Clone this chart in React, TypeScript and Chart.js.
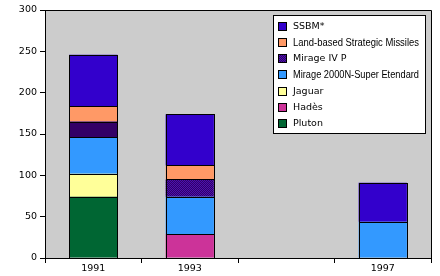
import React, { useEffect, useRef } from "react";
import { Chart, registerables } from "chart.js";

Chart.register(...registerables);

const years = ["1991", "1993", "", "1997"];
const pluton = [74, null, null, null];
const hades = [null, 29, null, null];
const jaguar = [28, null, null, null];
const mirage2000 = [44, 45, null, 44];
const mirageIV = [19, 21, null, null];
const landBased = [19, 17, null, null];
const ssbm = [62, 62, null, 47];
const yTicks = [0, 50, 100, 150, 200, 250, 300];

const FONT = "'DejaVu Sans', Verdana, sans-serif";

function makePattern(): CanvasPattern | string {
  const c = document.createElement("canvas");
  c.width = 4;
  c.height = 4;
  const g = c.getContext("2d");
  if (!g) return "#3a0a8a";
  g.fillStyle = "#330066";
  g.fillRect(0, 0, 4, 4);
  g.fillStyle = "#4a12b0";
  for (let i = 0; i < 4; i++) {
    g.fillRect(i, i % 4, 1, 1);
    g.fillRect(i, (i + 2) % 4, 1, 1);
  }
  const p = g.createPattern(c, "repeat");
  return p || "#3a0a8a";
}

export default function App() {
  const ref = useRef<HTMLCanvasElement | null>(null);

  useEffect(() => {
    document.body.style.margin = "0";
    const canvas = ref.current;
    if (!canvas) return;
    const pattern = makePattern();

    const bg = {
      id: "plotBg",
      beforeDraw(chart: any) {
        const { ctx, chartArea: a } = chart;
        ctx.save();
        ctx.fillStyle = "#ffffff";
        ctx.fillRect(0, 0, chart.width, chart.height);
        ctx.fillStyle = "#cccccc";
        ctx.fillRect(a.left, a.top, a.right - a.left, a.bottom - a.top);
        ctx.restore();
      },
      afterDatasetsDraw(chart: any) {
        const { ctx } = chart;
        ctx.save();
        ctx.strokeStyle = "#000";
        ctx.lineWidth = 1;
        chart.data.datasets.forEach((_d: any, di: number) => {
          const meta = chart.getDatasetMeta(di);
          meta.data.forEach((el: any, i: number) => {
            const v = chart.data.datasets[di].data[i];
            if (v === null || v === undefined) return;
            const p = el.getProps(["x", "y", "base", "width"], true);
            const l = Math.round(p.x - p.width / 2);
            const r = Math.round(p.x + p.width / 2);
            const t = Math.round(Math.min(p.y, p.base));
            const b = Math.round(Math.max(p.y, p.base));
            ctx.strokeRect(l + 0.5, t + 0.5, r - l, b - t);
          });
        });
        ctx.restore();
      },
      afterDraw(chart: any) {
        const { ctx, chartArea: a } = chart;
        ctx.save();
        ctx.strokeStyle = "#000";
        ctx.lineWidth = 1;
        ctx.beginPath();
        ctx.moveTo(Math.round(a.left) + 0.5, Math.round(a.top) + 0.5);
        ctx.lineTo(Math.round(a.right) + 0.5, Math.round(a.top) + 0.5);
        ctx.lineTo(Math.round(a.right) + 0.5, Math.round(a.bottom) + 0.5);
        ctx.stroke();

        // legend box
        const lx = 273, ly = 15, lw = 152, lh = 118;
        ctx.fillStyle = "#fff";
        ctx.fillRect(lx, ly, lw, lh);
        ctx.strokeRect(lx + 0.5, ly + 0.5, lw, lh);
        const ds = chart.data.datasets.slice().reverse();
        ds.forEach((d: any, i: number) => {
          const cy = 26 + i * 16.25;
          const sw = Array.isArray(d.backgroundColor)
            ? d.backgroundColor[d.backgroundColor.length - 1]
            : d.backgroundColor;
          const sy = Math.round(cy - 4.5);
          ctx.fillStyle = sw;
          ctx.fillRect(278, sy, 9, 9);
          ctx.strokeStyle = "#000";
          ctx.strokeRect(278.5, sy + 0.5, 8, 8);
          ctx.fillStyle = "#000";
          ctx.textBaseline = "middle";
          ctx.textAlign = "left";
          const long = d.label.length > 20;
          if (long) {
            ctx.font = `10px 'Liberation Sans', Arial, sans-serif`;
            ctx.fillText(d.label, 293, cy + 0.5, 126);
          } else {
            ctx.font = `9.5px ${FONT}`;
            ctx.fillText(d.label, 293, cy + 0.5);
          }
        });
        ctx.restore();
      },
    };

    const mk = (label: string, data: (number | null)[], color: any) => ({
      label,
      data,
      backgroundColor: color,
      borderWidth: 0,
      categoryPercentage: 0.5,
      barPercentage: 1,
    });

    const chart = new Chart(canvas, {
      type: "bar",
      data: {
        labels: years,
        datasets: [
          mk("Pluton", pluton, "#006633"),
          mk("Hadès", hades, "#cc3399"),
          mk("Jaguar", jaguar, "#ffff99"),
          mk("Mirage 2000N-Super Etendard", mirage2000, "#3399ff"),
          mk("Mirage IV P", mirageIV, ["#330066", pattern, "#330066", pattern]),
          mk("Land-based Strategic Missiles", landBased, "#ff9966"),
          mk("SSBM*", ssbm, "#3300cc"),
        ] as any,
      },
      options: {
        responsive: false,
        animation: false,
        layout: { padding: { left: 0, top: 10, right: 9, bottom: 0 } },
        plugins: {
          legend: { display: false },
          title: { display: false },
          tooltip: { enabled: false },
        },
        scales: {
          x: {
            stacked: true,
            offset: true,
            afterFit(scale: any) {
              scale.height = 18;
            },
            grid: {
              offset: true,
              drawOnChartArea: false,
              drawTicks: true,
              tickLength: 5,
              color: "#000",
              tickColor: "#000",
            },
            border: { display: true, color: "#000" },
            ticks: {
              color: "#000",
              font: { family: FONT, size: 9.5 },
              padding: 0,
              maxRotation: 0,
              autoSkip: false,
            },
          },
          y: {
            stacked: true,
            min: yTicks[0],
            max: yTicks[yTicks.length - 1],
            afterFit(scale: any) {
              scale.width = 45;
            },
            afterBuildTicks(scale: any) {
              scale.ticks = yTicks.map((v) => ({ value: v }));
            },
            grid: {
              drawOnChartArea: false,
              drawTicks: true,
              tickLength: 5,
              color: "#000",
              tickColor: "#000",
            },
            border: { display: true, color: "#000" },
            ticks: {
              color: "#000",
              font: { family: FONT, size: 9.5 },
              padding: 3,
            },
          },
        },
      },
      plugins: [bg],
    });
    return () => chart.destroy();
  }, []);

  return (
    <div style={{ width: 440, height: 276 }}>
      <canvas ref={ref} width={440} height={276} />
    </div>
  );
}
